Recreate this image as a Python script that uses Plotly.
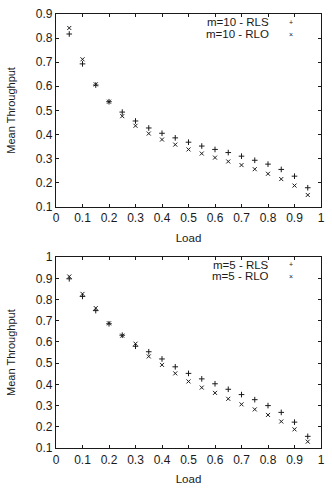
import plotly.graph_objects as go
from plotly.subplots import make_subplots

load = [0.05, 0.1, 0.15, 0.2, 0.25, 0.3, 0.35, 0.4, 0.45, 0.5,
        0.55, 0.6, 0.65, 0.7, 0.75, 0.8, 0.85, 0.9, 0.95]

m10_rls = [0.817, 0.693, 0.605, 0.536, 0.493, 0.456, 0.427, 0.405, 0.386, 0.368,
           0.352, 0.338, 0.325, 0.310, 0.293, 0.277, 0.255, 0.227, 0.179]
m10_rlo = [0.842, 0.712, 0.608, 0.536, 0.476, 0.436, 0.404, 0.379, 0.358, 0.338,
           0.321, 0.304, 0.288, 0.273, 0.256, 0.237, 0.215, 0.188, 0.149]

m5_rls = [0.898, 0.815, 0.748, 0.686, 0.632, 0.580, 0.554, 0.520, 0.483, 0.452,
          0.426, 0.403, 0.377, 0.352, 0.328, 0.300, 0.268, 0.222, 0.155]
m5_rlo = [0.909, 0.827, 0.760, 0.688, 0.630, 0.592, 0.532, 0.492, 0.452, 0.414,
          0.385, 0.360, 0.332, 0.306, 0.282, 0.256, 0.225, 0.188, 0.130]

legend_top = ["m=10 - RLS", "m=10 - RLO"]
legend_bot = ["m=5 - RLS", "m=5 - RLO"]

x_ticks = [0, 0.1, 0.2, 0.3, 0.4, 0.5, 0.6, 0.7, 0.8, 0.9, 1]
x_labels = ["0", "0.1", "0.2", "0.3", "0.4", "0.5", "0.6", "0.7", "0.8", "0.9", "1"]
y_ticks_top = [0.1, 0.2, 0.3, 0.4, 0.5, 0.6, 0.7, 0.8, 0.9]
y_ticks_bot = [0.1, 0.2, 0.3, 0.4, 0.5, 0.6, 0.7, 0.8, 0.9, 1]

FONT = "Liberation Sans, Arial, sans-serif"
INK = "#1a1a1a"
W, H = 332, 491
ML, MR, MT, MB = 56, 7, 13, 39
ph = H - MT - MB

fig = make_subplots(rows=2, cols=1, vertical_spacing=0.1)

def add_series(row, rls, rlo):
    fig.add_trace(go.Scatter(x=load, y=rls, mode="markers",
                             marker=dict(symbol="cross-thin-open", size=4,
                                         line=dict(color=INK, width=1), color=INK),
                             showlegend=False), row=row, col=1)
    fig.add_trace(go.Scatter(x=load, y=rlo, mode="markers",
                             marker=dict(symbol="x-thin-open", size=4,
                                         line=dict(color=INK, width=1), color=INK),
                             showlegend=False), row=row, col=1)

add_series(1, m10_rls, m10_rlo)
add_series(2, m5_rls, m5_rlo)

top_dom = [(H - MB - 208) / ph, 1.0]
bot_dom = [0.0, (H - MB - 259) / ph]

axis_common = dict(showline=True, linecolor=INK, linewidth=1.3, mirror="allticks",
                   ticks="inside", ticklen=3, tickcolor=INK, showgrid=False,
                   zeroline=False, tickfont=dict(family=FONT, size=12, color=INK))

fig.update_xaxes(range=[0, 1], tickvals=x_ticks, ticktext=x_labels,
                 title=dict(text="Load", font=dict(family=FONT, size=11.5, color=INK), standoff=9),
                 **axis_common)
fig.update_yaxes(title=dict(text="Mean Throughput", font=dict(family=FONT, size=11, color=INK), standoff=17),
                 **axis_common)
fig.update_yaxes(range=[0.1, 0.9], tickvals=y_ticks_top, ticktext=[f"{v:g}" for v in y_ticks_top],
                 domain=top_dom, row=1, col=1)
fig.update_yaxes(range=[0.1, 1.0], tickvals=y_ticks_bot, ticktext=[f"{v:g}" for v in y_ticks_bot],
                 domain=bot_dom, row=2, col=1)

def py(pix):
    return (H - MB - pix) / ph

def px(pix):
    return (pix - ML) / (W - ML - MR)

annots = []
for labels, ys in [(legend_top, [21, 33]), (legend_bot, [266, 278])]:
    for i, (lab, yy) in enumerate(zip(labels, ys)):
        annots.append(dict(x=px(273), y=py(yy), xref="paper", yref="paper", text=lab,
                           showarrow=False, xanchor="right", yanchor="middle",
                           height=11, borderpad=0,
                           font=dict(family=FONT, size=11.5, color=INK)))
        annots.append(dict(x=px(295), y=py(yy), xref="paper", yref="paper",
                           text="+" if i == 0 else "×",
                           showarrow=False, xanchor="center", yanchor="middle",
                           height=8, borderpad=0,
                           font=dict(family=FONT, size=7, color=INK)))

fig.update_layout(width=W, height=H, margin=dict(l=ML, r=MR, t=MT, b=MB),
                  paper_bgcolor="white", plot_bgcolor="white", annotations=annots,
                  showlegend=False)

fig.write_html("out.html")
